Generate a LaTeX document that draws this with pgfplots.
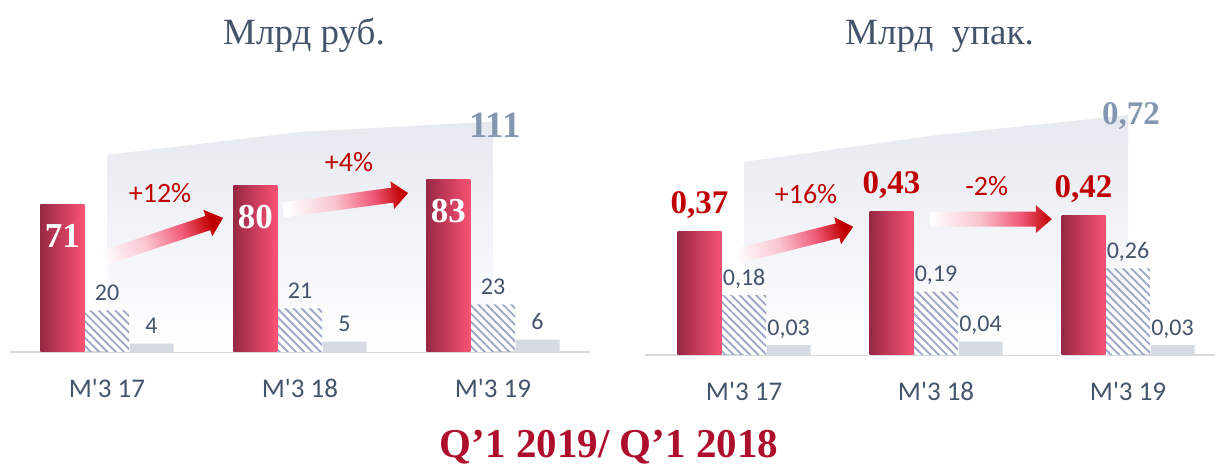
\documentclass[border=0pt]{standalone}
\usepackage{pgfplots}
\pgfplotsset{compat=1.18}
\usepackage{pgfplotstable}
\usepackage{fontspec}
\setmainfont{Carlito}
\newfontfamily\serif{Liberation Serif}
\usetikzlibrary{patterns.meta,calc}

\definecolor{txt}{RGB}{68,84,106}
\definecolor{redlab}{RGB}{192,0,0}
\definecolor{totlab}{RGB}{132,151,176}
\definecolor{barL}{RGB}{152,40,68}
\definecolor{barR}{RGB}{250,82,116}
\definecolor{hatch}{RGB}{158,170,196}
\definecolor{greybar}{RGB}{213,218,227}
\definecolor{areagrey}{RGB}{230,233,240}
\definecolor{baseln}{RGB}{217,217,217}
\definecolor{bottomred}{RGB}{172,14,44}
\definecolor{arrowred}{RGB}{192,0,0}
\definecolor{arrowpink}{RGB}{240,90,120}

\pgfdeclarehorizontalshading{arrowshade}{100bp}{color(0bp)=(white); color(25bp)=(white); color(45bp)=(arrowpink!35!white); color(62bp)=(arrowpink); color(75bp)=(arrowred); color(100bp)=(arrowred)}

\pgfplotstableread{
x main imp oth tot
0 71 20 4 95
1 80 21 5 106
2 83 23 6 111
}\rub
\pgfplotstableread{
x main imp oth tot
0 0.37 0.18 0.03 0.58
1 0.43 0.19 0.04 0.66
2 0.42 0.26 0.03 0.72
}\pack

\newcommand\fatarrow[3]{%
  \coordinate (hb) at ($(#2)!8pt!(#1)$);
  \shade[shading=arrowshade, shading angle=#3]
    ($(#1)!3.75pt!90:(hb)$) -- ($(hb)!3.75pt!-90:(#1)$) -- ($(hb)!7pt!-90:(#1)$) -- (#2)
    -- ($(hb)!7pt!90:(#1)$) -- ($(hb)!3.75pt!90:(#1)$) -- ($(#1)!3.75pt!-90:(hb)$) -- cycle;
}

\pgfplotsset{
  mychart/.style={
    scale only axis, anchor=south west,
    ymin=0, clip=false,
    axis x line*=bottom, axis y line=none,
    x axis line style={draw=baseln, line width=1pt, -},
    xtick={0,1,2},
    xticklabels={M\textquotesingle 3 17, M\textquotesingle 3 18, M\textquotesingle 3 19},
    major tick length=0pt,
    xticklabel style={font=\fontsize{13.5}{16}\selectfont, text=txt, anchor=base, inner sep=0pt, yshift=-23pt},
    /pgf/number format/assume math mode=true,
  },
  smallval/.style={nodes near coords, every node near coord/.append style={font=\fontsize{12}{14}\selectfont, text=txt, anchor=base, inner sep=0pt, yshift=5pt}},
  hatchbar/.style={ybar, bar width=22pt, bar shift=0pt, draw=none, pattern={Lines[angle=-45,distance=2.9pt,line width=0.95pt]}, pattern color=hatch},
  greyb/.style={ybar, bar width=22pt, bar shift=0pt, draw=none, fill=greybar},
  redb/.style={ybar, bar width=22pt, bar shift=0pt, draw=none, left color=barL, right color=barR},
}

\begin{document}
\begin{tikzpicture}
\useasboundingbox (0,0) rectangle (607.5pt,233pt);

% ---------- left chart ----------
\begin{axis}[mychart,
  at={(5.25pt,57pt)}, width=289.5pt, height=129.7pt,
  xmin=-0.5, xmax=2.5, ymax=125,
  redlabel/.style={nodes near coords, every node near coord/.append style={font=\serif\bfseries\fontsize{17.5}{19}\selectfont, text=white, anchor=north, inner sep=0pt, yshift=-9.5pt}}]
\addplot[draw=none, top color=areagrey, bottom color=white, forget plot] table[x=x,y=tot]{\rub} \closedcycle;
\addplot[redb, redlabel, restrict x to domain=-0.5:0.5] table[x expr=\thisrow{x}-0.2306, y=main]{\rub};
\addplot[redb, redlabel, restrict x to domain=0.5:1.5] table[x expr=\thisrow{x}-0.2306, y=main]{\rub};
\addplot[redb, redlabel, restrict x to domain=1.5:2.5] table[x expr=\thisrow{x}-0.2306, y=main]{\rub};
\addplot[hatchbar, smallval] table[x=x,y=imp]{\rub};
\addplot[greyb, smallval] table[x expr=\thisrow{x}+0.2306,y=oth]{\rub};
\node[anchor=base, font=\serif\bfseries\fontsize{18.5}{20}\selectfont, text=totlab, inner sep=0pt] at (axis cs:2.01,103.6) {111};
\node[anchor=base, font=\fontsize{14}{16}\selectfont, text=redlab, inner sep=0pt] at (axis cs:0.275,72.0) {+12\%};
\node[anchor=base, font=\fontsize{14}{16}\selectfont, text=redlab, inner sep=0pt] at (axis cs:1.254,87.0) {+4\%};
\coordinate (LA1t) at (axis cs:-0.078,43.4);
\coordinate (LA1h) at (axis cs:0.601,64.6);
\coordinate (LA2t) at (axis cs:0.912,68.4);
\coordinate (LA2h) at (axis cs:1.560,76.6);
\end{axis}

% ---------- right chart ----------
\begin{axis}[mychart,
  at={(322.5pt,55.5pt)}, width=285pt, height=124.9pt,
  xmin=-0.516, xmax=2.453, ymax=0.75,
  /pgf/number format/use comma, /pgf/number format/fixed,
  /pgf/number format/fixed zerofill, /pgf/number format/precision=2,
  redlabel/.style={nodes near coords, every node near coord/.append style={font=\serif\bfseries\fontsize{16.5}{18}\selectfont, text=redlab, anchor=base, inner sep=0pt, yshift=9pt}}]
\addplot[draw=none, top color=areagrey, bottom color=white, forget plot] table[x=x,y=tot]{\pack} \closedcycle;
\addplot[redb, redlabel, restrict x to domain=-0.6:0.5] table[x expr=\thisrow{x}-0.2318, y=main]{\pack};
\addplot[redb, redlabel, restrict x to domain=0.5:1.5] table[x expr=\thisrow{x}-0.2318, y=main]{\pack};
\addplot[redb, redlabel, restrict x to domain=1.5:2.5] table[x expr=\thisrow{x}-0.2318, y=main]{\pack};
\addplot[hatchbar, smallval] table[x=x,y=imp]{\pack};
\addplot[greyb, smallval] table[x expr=\thisrow{x}+0.2318,y=oth]{\pack};
\node[anchor=base, font=\serif\bfseries\fontsize{16.5}{18}\selectfont, text=totlab, inner sep=0pt] at (axis cs:2.016,0.691) {0,72};
\node[anchor=base, font=\fontsize{14}{16}\selectfont, text=redlab, inner sep=0pt] at (axis cs:0.323,0.456) {+16\%};
\node[anchor=base, font=\fontsize{14}{16}\selectfont, text=redlab, inner sep=0pt] at (axis cs:1.264,0.480) {-2\%};
\coordinate (RA1t) at (axis cs:-0.083,0.290);
\coordinate (RA1h) at (axis cs:0.568,0.385);
\coordinate (RA2t) at (axis cs:0.969,0.408);
\coordinate (RA2h) at (axis cs:1.603,0.408);
\end{axis}

\fatarrow{LA1t}{LA1h}{18.6}
\fatarrow{LA2t}{LA2h}{7.7}
\fatarrow{RA1t}{RA1h}{14.3}
\fatarrow{RA2t}{RA2h}{0}

% titles
\node[anchor=base, font=\serif\fontsize{18.5}{20}\selectfont, text=txt, inner sep=0pt] at (152pt,210.5pt) {Млрд руб.};
\node[anchor=base, font=\serif\fontsize{18.5}{20}\selectfont, text=txt, inner sep=0pt] at (469.75pt,210.5pt) {Млрд\ \ упак.};
\node[anchor=base, font=\serif\bfseries\fontsize{20.5}{23}\selectfont, text=bottomred, inner sep=0pt] at (304.5pt,4.5pt) {Q’1 2019/ Q’1 2018};
\end{tikzpicture}
\end{document}
